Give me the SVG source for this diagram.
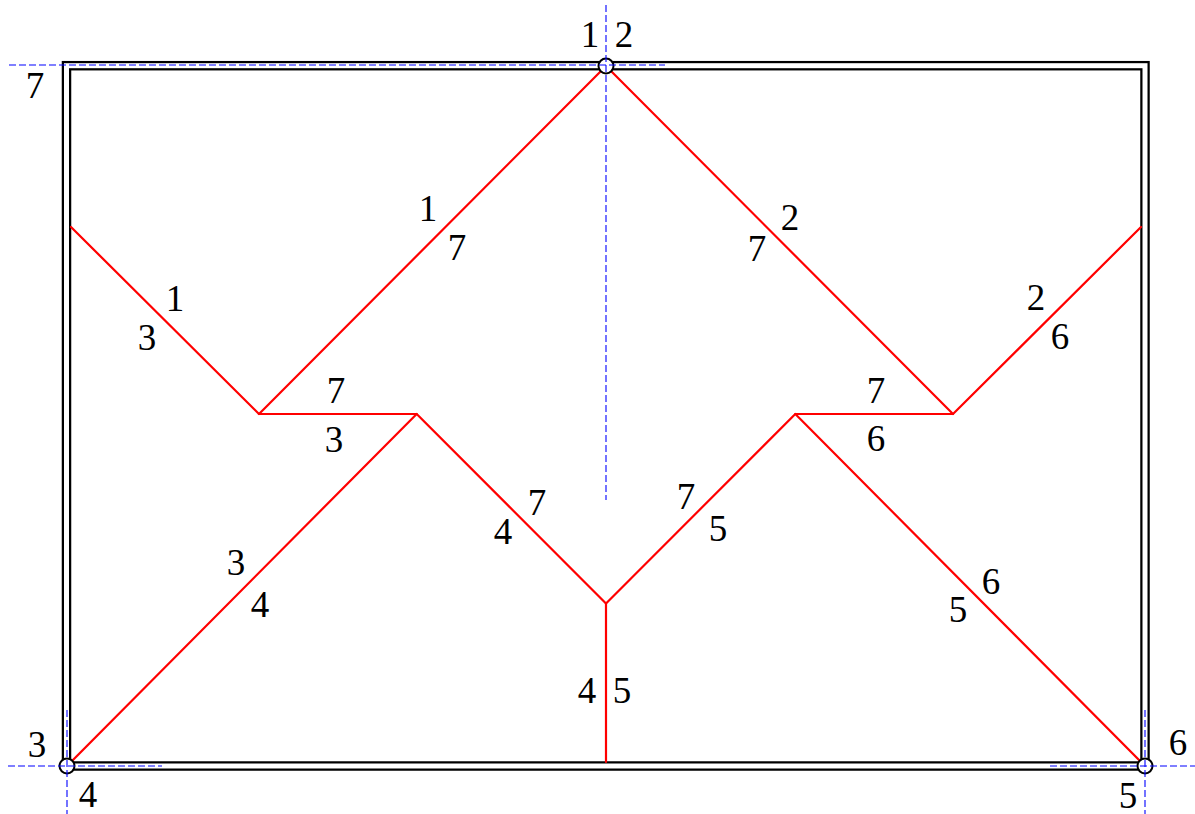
<svg xmlns="http://www.w3.org/2000/svg" width="1195" height="814" viewBox="0 0 1195 814">
<style>
.bo{fill:none;stroke:#000;stroke-width:9.5}
.bi{fill:none;stroke:#fff;stroke-width:5}
.fold{fill:none;stroke:#ff0000;stroke-width:2.2;stroke-linecap:round;stroke-linejoin:round}
.ax{fill:none;stroke:#0000ff;stroke-width:1.1;stroke-dasharray:7,3}
.pt{fill:#fff;stroke:#000;stroke-width:2}
.lb text{font-size:37px;fill:#000;text-anchor:middle}
</style>
<rect width="1195" height="814" fill="#fff"/>
<g id="border">
<rect class="bo" x="66.5" y="65.7" width="1078.5" height="700.3"/>
<rect class="bi" x="66.5" y="65.7" width="1078.5" height="700.3"/>
</g>
<g id="connectors">
<polyline class="fold" points="606,66 259,414 416.7,414 606,603.5 795.3,414 953,414 606,66"/>
<line class="fold" x1="71" y1="227" x2="259" y2="414"/>
<line class="fold" x1="416.7" y1="414" x2="67" y2="766"/>
<line class="fold" x1="606" y1="603.5" x2="606" y2="762"/>
<line class="fold" x1="795.3" y1="414" x2="1145" y2="766"/>
<line class="fold" x1="953" y1="414" x2="1141" y2="227"/>
</g>
<g id="points">
<circle class="pt" cx="606" cy="66" r="7.5"/>
<circle class="pt" cx="67" cy="766" r="7.5"/>
<circle class="pt" cx="1145" cy="766" r="7.5"/>
</g>
<g id="axes">
<line class="ax" x1="9" y1="65" x2="665" y2="65"/>
<line class="ax" x1="606" y1="5" x2="606" y2="500"/>
<line class="ax" x1="8" y1="766" x2="162" y2="766"/>
<line class="ax" x1="67" y1="710" x2="67" y2="814"/>
<line class="ax" x1="1050" y1="766" x2="1195" y2="766"/>
<line class="ax" x1="1145" y1="710" x2="1145" y2="814"/>
</g>
<g id="labels" class="lb" font-family="Liberation Serif, 'Times New Roman', 'DejaVu Serif', serif">
<text x="590" y="47">1</text>
<text x="624" y="47">2</text>
<text x="35" y="98">7</text>
<text x="175" y="311">1</text>
<text x="147" y="350">3</text>
<text x="428" y="221">1</text>
<text x="457" y="260">7</text>
<text x="336" y="403">7</text>
<text x="334" y="452">3</text>
<text x="790" y="230">2</text>
<text x="757" y="261">7</text>
<text x="1036" y="310">2</text>
<text x="1060" y="349">6</text>
<text x="876" y="403">7</text>
<text x="876" y="451">6</text>
<text x="537" y="515">7</text>
<text x="503" y="544">4</text>
<text x="686" y="509">7</text>
<text x="718" y="541">5</text>
<text x="236" y="575">3</text>
<text x="260" y="617">4</text>
<text x="991" y="594">6</text>
<text x="958" y="622">5</text>
<text x="587" y="703">4</text>
<text x="622" y="703">5</text>
<text x="37" y="757">3</text>
<text x="88" y="807">4</text>
<text x="1178" y="755">6</text>
<text x="1128" y="808">5</text>
</g>
</svg>
